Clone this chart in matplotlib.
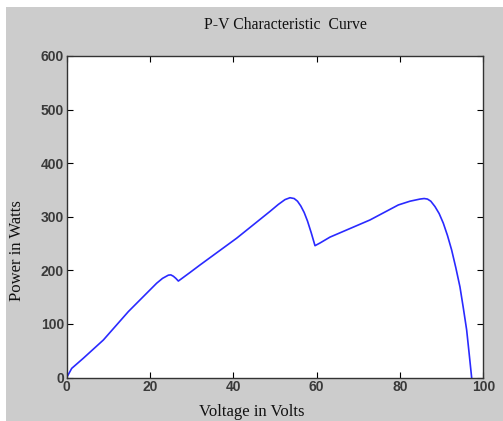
import matplotlib
matplotlib.use("Agg")
import matplotlib.pyplot as plt
from matplotlib.patches import Rectangle

# P-V curve
voltage = [0, 1.2, 4.0, 8.8, 14.8, 21.6, 23.0, 24.4, 25.0, 25.6, 26.2, 26.8,
           29.6, 32, 40.8, 48.8, 50.8, 52.4, 53.6, 54.6, 55.4, 56.2, 57.0,
           57.8, 58.7, 59.6, 60.8, 63.2, 72.8, 79.6, 82.4, 84.8, 85.8, 86.6,
           87.4, 88.4, 89.4, 90.4, 91.4, 92.4, 93.4, 94.4, 95.2, 96.0, 96.6, 97.2]
power = [0, 17, 36, 70, 123, 176, 185, 191, 191.5, 189, 185, 180,
         196, 210, 260, 310, 323, 332, 335.5, 334, 329, 320, 308,
         292, 270, 246, 251, 262, 294, 322, 329, 333, 334, 333,
         329, 319, 306, 288, 265, 238, 205, 169, 130, 89, 45, 0]
xticks = [0, 20, 40, 60, 80, 100]
yticks = [0, 100, 200, 300, 400, 500, 600]

W, H = 503, 421
fig = plt.figure(figsize=(W / 100, H / 100), dpi=100, facecolor="white")
# matlab style grey window, with a thin white margin top/left
fig.patches.append(Rectangle((6 / W, 0), 1, 1 - 7 / H, transform=fig.transFigure,
                             facecolor="#cccccc", edgecolor="none", zorder=-1))

ax = fig.add_axes([66.7 / W, 1 - 377.5 / H, (483.3 - 66.7) / W, (377.5 - 56) / H])
ax.plot(voltage, power, color="#2a2aff", lw=1.2)

ax.set_xlim(0, 100)
ax.set_ylim(0, 600)
ax.set_xticks(xticks)
ax.set_yticks(yticks)
ax.tick_params(direction="in", length=4, width=0.8, top=True, right=True,
               labelsize=10, labelcolor="#3a3a3a", pad=2)
for lab in ax.get_xticklabels() + ax.get_yticklabels():
    lab.set_fontfamily("Liberation Sans")
    lab.set_fontweight("bold")
for sp in ax.spines.values():
    sp.set_color("#333333")
    sp.set_linewidth(1.0)

serif = "Liberation Serif"
fig.text(285 / W, 1 - 25 / H, "P-V Characteristic  Curve", ha="center", va="center",
         fontsize=11.3, family=serif, color="#111111")
fig.text(252 / W, 1 - 412 / H, "Voltage in Volts", ha="center", va="center",
         fontsize=12, family=serif, color="#111111")
fig.text(17 / W, 1 - 251 / H, "Power in Watts", ha="center", va="center",
         rotation=90, fontsize=12, family=serif, color="#111111")

fig.savefig("out.png", dpi=100, facecolor=fig.get_facecolor())
